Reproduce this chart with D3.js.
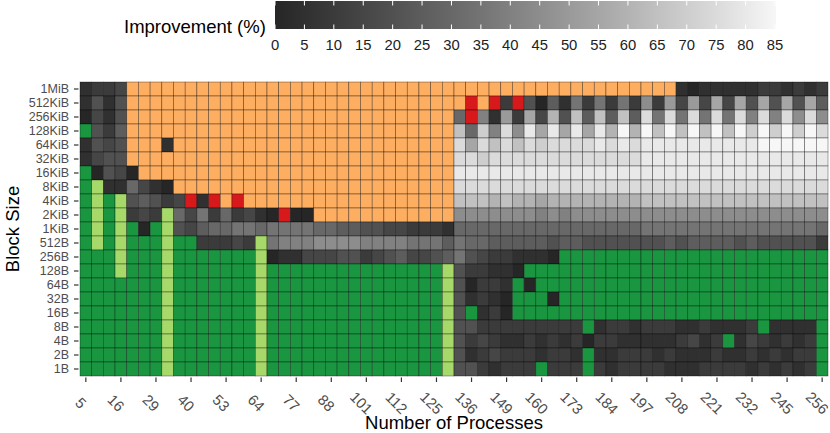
<!DOCTYPE html>
<html>
<head>
<meta charset="utf-8">
<script src="https://cdn.jsdelivr.net/npm/d3@7"></script>
<style>
  body { margin: 0; background: #fff; }
  svg text { font-family: "Liberation Sans", Arial, sans-serif; }
</style>
</head>
<body>
<div id="chart"></div>
<script>
const processes = [5, 8, 12, 16, 20, 24, 29, 32, 36, 40, 44, 48, 53, 56, 60, 64,
    68, 72, 77, 80, 84, 88, 92, 96, 101, 104, 108, 112, 116, 120, 125, 128,
    132, 136, 140, 144, 149, 152, 156, 160, 164, 168, 173, 176, 180, 184, 188, 192,
    197, 200, 204, 208, 212, 216, 221, 224, 228, 232, 236, 240, 245, 248, 252, 256];

const blockSizes = ['1MiB', '512KiB', '256KiB', '128KiB', '64KiB', '32KiB', '16KiB', '8KiB',
    '4KiB', '2KiB', '1KiB', '512B', '256B', '128B', '64B', '32B', '16B', '8B', '4B', '2B', '1B'];

const xTickValues = [5, 16, 29, 40, 53, 64, 77, 88, 101, 112, 125, 136, 149, 160, 173, 184,
    197, 208, 221, 232, 245, 256];

const legendTicks = [0, 5, 10, 15, 20, 25, 30, 35, 40, 45, 50, 55, 60, 65, 70, 75, 80, 85];

// one row per block size (top to bottom), one char per process count
// 0-9 / a-h -> improvement in steps of 5 %, G / L / O / R -> status cells
const improvementRows = [
    '1223OOOOOOOOOOOO OOOOOOOOOOOOOOOO OOOOOOOOOOOOOOOO OOO1011111221212',
    '1414OOOOOOOOOOOO OOOOOOOOOOOOOOOO OROR2R4051727272 92a3a3b3b4b4b4b5',
    '0314OOOOOOOOOOOO OOOOOOOOOOOOOOOO 6R81a2b3c4d5d5d5 f7f7f7f7f8f8f9f9',
    'G425OOOOOOOOOOOO OOOOOOOOOOOOOOOO d6e8f9gbgbgbgchc hdhdhdhdhehehehf',
    '1434OOO1OOOOOOOO OOOOOOOOOOOOOOOO fbfdfdfeffffgfgf gggggggggghhhhhh',
    '1344OOOOOOOOOOOO OOOOOOOOOOOOOOOO ffefffffffffffff gggggggggggggggg',
    'G0430OOOOOOOOOOO OOOOOOOOOOOOOOOO gggggggggggggggg gggggggggggggggg',
    'GL116310OOOOOOOO OOOOOOOOOOOOOOOO ffffffffffffffff ffffffffffffffff',
    'GLGL45423R1ROROO OOOOOOOOOOOOOOOO dddcdccbcccccccc dddddddddddddddd',
    'GLGL232L63726231 0R00OOOOOOOOOOOO 9999999898999999 9999999999999999',
    'GLGLG0GL43566776 7777665544332221 6666666666666666 7777777777777776',
    'GLGLGGGLGG22232L 7888999988887775 7665555545544444 4454555545444442',
    'GGGLGGGLGGGGGGGL 0113334423453345 743221110GGGGGGG GGGGGGGGGGGGGGGG',
    'GGGLGGGLGGGGGGGL GGGGGGGGGGGGGGGL 422110GGGGGGGGGG GGGGGGGGGGGGGGGG',
    'GGGGGGGLGGGGGGGL GGGGGGGGGGGGGGGL 40221G0GGGGGGGGG GGGGGGGGGGGGGGGG',
    'GGGGGGGLGGGGGGGL GGGGGGGGGGGGGGGL 41210GGG0GGGGGGG GGGGGGGGGGGGGGGG',
    'GGGGGGGLGGGGGGGL GGGGGGGGGGGGGGGL 4G120GGGGGGGGGGG GGGGGGGGGGGGGGGG',
    'GGGGGGGLGGGGGGGL GGGGGGGGGGGGGGGL 44222222222G1221 2221121112G1111G',
    'GGGGGGGLGGGGGGGL GGGGGGGGGGGGGGGL 4232112121202211 1112312G1321212G',
    'GGGGGGGLGGGGGGGL GGGGGGGGGGGGGGGL 41232221221G1122 212111211212122G',
    'GGGGGGGLGGGGGGGL GGGGGGGGGGGGGGGL 4421222G222G2122 221112222121212G'
];

const statusColors = { G: '#1a9641', L: '#a6d96a', O: '#fdae61', R: '#d7191c' };

const width = 830;
const height = 433;

const svg = d3.select('#chart')
    .append('svg')
    .attr('width', width)
    .attr('height', height);

const x = d3.scaleBand().domain(processes).range([80, 828]);
const y = d3.scaleBand().domain(blockSizes).range([82, 376]);
const fill = d3.scaleLinear()
    .domain([0, 85])
    .range(['#262626', '#f7f7f7'])
    .interpolate(d3.interpolateLab);

// flatten the rows into cells
const cells = [];
improvementRows.forEach((row, i) => {
    row.replace(/ /g, '').split('').forEach((c, j) => {
        const status = statusColors[c];
        cells.push({
            block: blockSizes[i],
            procs: processes[j],
            color: status || fill(parseInt(c, 36) * 5)
        });
    });
});

svg.append('g')
    .selectAll('rect')
    .data(cells)
    .join('rect')
    .attr('x', d => x(d.procs))
    .attr('y', d => y(d.block))
    .attr('width', x.bandwidth())
    .attr('height', y.bandwidth())
    .attr('fill', d => d.color)
    .attr('stroke', '#000')
    .attr('stroke-opacity', 0.55)
    .attr('stroke-width', 0.6);

// axes
const xAxis = svg.append('g')
    .attr('transform', 'translate(0, 377.5)')
    .call(d3.axisBottom(x).tickValues(xTickValues).tickSize(4.5).tickSizeOuter(0));
xAxis.select('.domain').remove();
xAxis.selectAll('.tick line').attr('stroke', '#333').attr('stroke-width', 1.2);
xAxis.selectAll('.tick text')
    .attr('fill', '#4d4d4d')
    .attr('font-size', 14.8)
    .attr('y', 0)
    .attr('dy', '0.35em')
    .attr('text-anchor', 'middle')
    .attr('transform', 'translate(-5, 25.5) rotate(45)');

// row labels kept a bit smaller so neighbouring labels don't collide
const yAxis = svg.append('g')
    .attr('transform', 'translate(78.5, 0)')
    .call(d3.axisLeft(y).tickSize(4.5).tickPadding(5).tickSizeOuter(0));
yAxis.select('.domain').remove();
yAxis.selectAll('.tick line').attr('stroke', '#333').attr('stroke-width', 1.2);
yAxis.selectAll('.tick text')
    .attr('fill', '#4d4d4d')
    .attr('font-size', 12.5);

svg.append('text')
    .attr('x', 454)
    .attr('y', 428.5)
    .attr('text-anchor', 'middle')
    .attr('font-size', 18.5)
    .attr('fill', '#000')
    .text('Number of Processes');

svg.append('text')
    .attr('transform', 'translate(19, 229) rotate(-90)')
    .attr('text-anchor', 'middle')
    .attr('font-size', 18.5)
    .attr('fill', '#000')
    .text('Block Size');

// colour bar legend
const lx = d3.scaleLinear().domain([0, 85]).range([275, 775]);
const defs = svg.append('defs');
const grad = defs.append('linearGradient')
    .attr('id', 'improvement-grad')
    .attr('x1', '0%').attr('x2', '100%');
grad.selectAll('stop')
    .data(legendTicks)
    .join('stop')
    .attr('offset', d => `${d / 85 * 100}%`)
    .attr('stop-color', d => fill(d));

svg.append('rect')
    .attr('x', lx(0))
    .attr('y', 1)
    .attr('width', lx(85) - lx(0) + 1)
    .attr('height', 28)
    .attr('fill', 'url(#improvement-grad)');

const legendTickG = svg.append('g').selectAll('g')
    .data(legendTicks)
    .join('g')
    .attr('transform', d => `translate(${lx(d)}, 0)`);
legendTickG.append('line')
    .attr('y1', 1).attr('y2', 5.5)
    .attr('stroke', '#fff').attr('stroke-width', 1);
legendTickG.append('line')
    .attr('y1', 24.5).attr('y2', 29)
    .attr('stroke', '#fff').attr('stroke-width', 1);
legendTickG.append('text')
    .attr('y', 50)
    .attr('text-anchor', 'middle')
    .attr('font-size', 14.8)
    .attr('fill', '#222')
    .text(d => d);

svg.append('text')
    .attr('x', 124)
    .attr('y', 33)
    .attr('font-size', 18.5)
    .attr('fill', '#000')
    .text('Improvement (%)');
</script>
</body>
</html>
